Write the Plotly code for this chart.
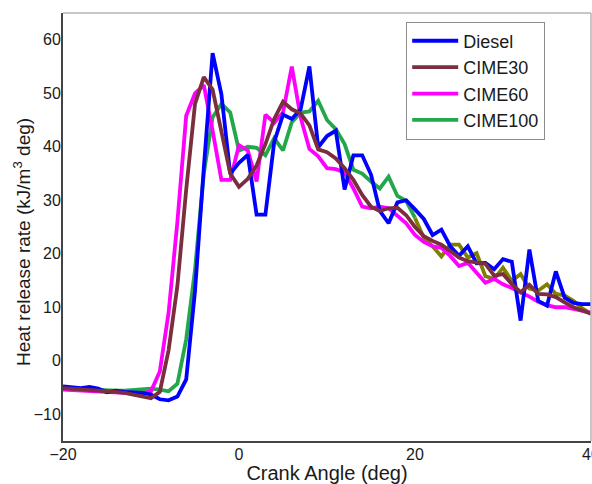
import plotly.graph_objects as go

crank_angle = [-20, -19, -18, -17, -16, -15, -14, -13, -12, -11, -10, -9, -8, -7, -6, -5, -4, -3, -2, -1,
               0, 1, 2, 3, 4, 5, 6, 7, 8, 9, 10, 11, 12, 13, 14, 15, 16, 17, 18, 19,
               20, 21, 22, 23, 24, 25, 26, 27, 28, 29, 30, 31, 32, 33, 34, 35, 36, 37, 38, 39, 40]

diesel = [-4.8, -5.0, -5.1, -4.9, -5.2, -5.9, -5.6, -5.8, -5.9, -6.0, -6.3, -7.2, -7.4, -6.7, -3.5, 13, 36, 57.5, 49.8, 35,
          37, 38.5, 27.3, 27.3, 40.9, 46, 45.2, 47, 55, 39.9, 42, 43, 32, 38.4, 38.4, 34.8, 28, 25.7, 29.6, 30,
          28.3, 26.5, 23.5, 24.5, 21.4, 19.6, 21.4, 18.2, 18.3, 17.1, 19, 18.5, 7.5, 20.8, 11.2, 10.3, 16.7, 11.8, 10.8, 10.6, 10.6]

cime30 = [-5.1, -5.2, -5.3, -5.4, -5.5, -5.6, -5.8, -6.0, -6.3, -6.7, -7.0, -5.8, 2, 14, 32, 48, 53, 50.7, 42.4, 35,
          32.5, 34, 36.5, 40.5, 45.2, 48.4, 47, 46.2, 44, 39.5, 39, 37.8, 36, 33.8, 31, 28.8, 28, 28.5, 28.6, 27.2,
          25, 23.3, 22.4, 21.7, 20.5, 19.3, 18.6, 18.3, 18.1, 15.9, 16.2, 14.3, 12.8, 14.2, 12.5, 12.4, 11.9, 10.9, 10, 9.4, 8.8]

cime60 = [-5.4, -5.5, -5.6, -5.6, -5.7, -5.8, -5.9, -6.0, -6.1, -6.1, -5.7, -2, 9, 26, 45.8, 50, 51.5, 43, 33.8, 33.8,
          40.3, 39.3, 33.5, 46, 44.5, 46.4, 55, 45.5, 39.6, 38.2, 36, 35.8, 35.2, 32.2, 28.8, 28.5, 28.8, 28.5, 27.2, 25.7,
          23.5, 22.2, 21.4, 21.1, 19.6, 17.7, 18.3, 16.5, 14.6, 15.3, 14.3, 13.6, 12.8, 12, 11, 10.4, 10, 10, 9.7, 9.4, 9]

cime100 = [-5.1, -5.2, -5.3, -5.4, -5.5, -5.5, -5.6, -5.6, -5.5, -5.3, -5.2, -5.4, -5.7, -4.3, 4, 17, 35, 45.5, 48, 46.4,
           39.3, 40, 39.8, 38.4, 41.6, 39.3, 44.6, 46.4, 46.6, 48.6, 45, 43.3, 40.5, 35.7, 35, 33.5, 32.2, 34.4, 30.8, 29.9,
           26.7, 23, 21.4, 19.5, 21.7, 21.7, 19.3, 20.1, 15.8, 15.3, 17.4, 14.9, 16.2, 13.5, 13.1, 14.3, 12.5, 12.2, 11.2, 9.8, 8.8]

x_ticks = [-20, 0, 20, 40]
y_ticks = [-10, 0, 10, 20, 30, 40, 50, 60]

split = crank_angle.index(20)
LW = 3.8

fig = go.Figure()
fig.add_trace(go.Scatter(x=crank_angle[split:], y=cime100[split:], mode="lines",
                         line=dict(color="#808000", width=LW), showlegend=False, name="CIME100"))
fig.add_trace(go.Scatter(x=crank_angle[:split + 1], y=cime100[:split + 1], mode="lines",
                         line=dict(color="#22A84A", width=LW), name="CIME100", legendrank=4))
fig.add_trace(go.Scatter(x=crank_angle, y=cime60, mode="lines",
                         line=dict(color="#FF00FF", width=LW), name="CIME60", legendrank=3))
fig.add_trace(go.Scatter(x=crank_angle, y=diesel, mode="lines",
                         line=dict(color="#0000FF", width=LW), name="Diesel", legendrank=1))
fig.add_trace(go.Scatter(x=crank_angle, y=cime30, mode="lines",
                         line=dict(color="#7A2E3E", width=LW), name="CIME30", legendrank=2))

fig.update_layout(
    width=592, height=484,
    margin=dict(l=63, r=1, t=13, b=43),
    plot_bgcolor="white", paper_bgcolor="white",
    font=dict(family="Liberation Sans, Arial, sans-serif", size=16, color="#1a1a1a"),
    legend=dict(x=0.65, y=0.98, xanchor="left", yanchor="top",
                bgcolor="white", bordercolor="#8c8c8c", borderwidth=1,
                font=dict(size=18, color="#1a1a1a"), itemwidth=46, tracegroupgap=0),
    shapes=[
        dict(type="line", xref="paper", yref="paper", x0=0, x1=1, y0=1, y1=1,
             line=dict(color="#b4b4b4", width=1.5)),
        dict(type="line", xref="paper", yref="paper", x0=1, x1=1, y0=0, y1=1,
             line=dict(color="#b4b4b4", width=1.5)),
    ],
    annotations=[
        dict(text="Heat release rate (kJ/m<sup>3</sup> deg)", xref="paper", yref="paper",
             x=-0.0775, y=0.465, xanchor="center", yanchor="middle", textangle=-90,
             showarrow=False, font=dict(size=19, color="#1a1a1a")),
    ],
)
fig.update_xaxes(range=[-20, 40], tickvals=x_ticks, showline=True, linecolor="#444444", linewidth=2,
                 showgrid=False, zeroline=False, ticks="", ticklabeloverflow="allow", automargin=False,
                 ticklabelstandoff=-2,
                 title=dict(text="Crank Angle (deg)", font=dict(size=20), standoff=15))
fig.update_yaxes(range=[-15, 65], tickvals=y_ticks, showline=True, linecolor="#444444", linewidth=2,
                 showgrid=False, zeroline=False, ticks="", ticklabelstandoff=-3, automargin=False)

fig.write_html("out.html")
